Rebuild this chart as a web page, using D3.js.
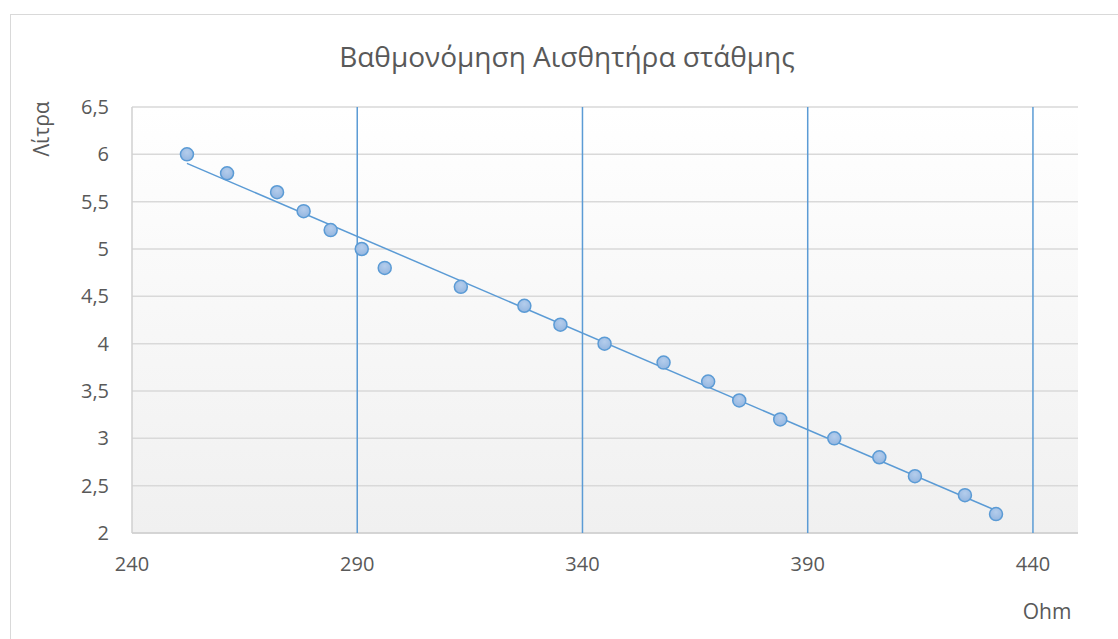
<!DOCTYPE html>
<html>
<head>
<meta charset="utf-8">
<script src="https://cdn.jsdelivr.net/npm/d3@7"></script>
<style>
    body { margin: 0; background: #fff; }
    svg text { font-family: "Open Sans", "Noto Sans", sans-serif; fill: #595959; }
</style>
</head>
<body>
<div id="chart"></div>
<script>
const width = 1118
const height = 639
const margins = ({
    top: 107,
    right: 40,
    bottom: 106,
    left: 132
})

// measured data: resistance (Ohm) vs volume (litres)
const ohm = [252.2, 261.1, 272.2, 278.1, 284.1, 291.0, 296.1, 313.0, 327.1, 335.1,
    344.9, 358.0, 367.9, 374.8, 383.9, 395.9, 405.9, 413.8, 424.9, 431.8]
const litres = [6.0, 5.8, 5.6, 5.4, 5.2, 5.0, 4.8, 4.6, 4.4, 4.2,
    4.0, 3.8, 3.6, 3.4, 3.2, 3.0, 2.8, 2.6, 2.4, 2.2]
const xTicks = [240, 290, 340, 390, 440]
const yTicks = [2, 2.5, 3, 3.5, 4, 4.5, 5, 5.5, 6, 6.5]

const title = "Βαθμονόμηση Αισθητήρα στάθμης"
const xLabel = "Ohm"
const yLabel = "Λίτρα"

const points = ohm.map((x, i) => ({x: x, y: litres[i]}))

const svg = d3.select("#chart")
    .append("svg")
    .attr("width", width)
    .attr("height", height)

const x = d3.scaleLinear().domain([240, 450]).range([margins.left, width - margins.right])
const y = d3.scaleLinear().domain([2, 6.5]).range([height - margins.bottom, margins.top])

// chart border
svg.append("rect")
    .attr("x", 10.5)
    .attr("y", 14.5)
    .attr("width", width)
    .attr("height", height)
    .attr("fill", "#fff")
    .attr("stroke", "#d9d9d9")
    .attr("stroke-width", 1)

const defs = svg.append("defs")
const bg = defs.append("linearGradient")
    .attr("id", "plot-bg")
    .attr("x1", 0).attr("y1", 0).attr("x2", 0).attr("y2", 1)
bg.append("stop").attr("offset", "0%").attr("stop-color", "#ffffff")
bg.append("stop").attr("offset", "100%").attr("stop-color", "#f0f0f0")

const dot = defs.append("radialGradient")
    .attr("id", "dot-fill")
    .attr("cx", "50%").attr("cy", "35%").attr("r", "65%")
dot.append("stop").attr("offset", "0%").attr("stop-color", "#b4cdec")
dot.append("stop").attr("offset", "100%").attr("stop-color", "#94b6e0")

svg.append("rect")
    .attr("x", x(240))
    .attr("y", y(6.5))
    .attr("width", x(450) - x(240))
    .attr("height", y(2) - y(6.5))
    .attr("fill", "url(#plot-bg)")

// horizontal gridlines
svg.append("g")
    .selectAll("line")
    .data(yTicks)
    .join("line")
    .attr("x1", x(240))
    .attr("x2", x(450))
    .attr("y1", d => y(d))
    .attr("y2", d => y(d))
    .attr("stroke", "#d9d9d9")
    .attr("stroke-width", 1.5)

// axes lines
svg.append("line")
    .attr("x1", x(240)).attr("x2", x(240))
    .attr("y1", y(6.5)).attr("y2", y(2))
    .attr("stroke", "#d0d0d0")
    .attr("stroke-width", 1.5)
svg.append("line")
    .attr("x1", x(240)).attr("x2", x(450))
    .attr("y1", y(2)).attr("y2", y(2))
    .attr("stroke", "#d0d0d0")
    .attr("stroke-width", 1.5)

// vertical gridlines (blue)
svg.append("g")
    .selectAll("line")
    .data(xTicks.filter(d => d > 240))
    .join("line")
    .attr("x1", d => x(d))
    .attr("x2", d => x(d))
    .attr("y1", y(6.5))
    .attr("y2", y(2))
    .attr("stroke", "#5b9bd5")
    .attr("stroke-width", 1.5)

// tick labels
svg.append("g")
    .selectAll("text")
    .data(yTicks)
    .join("text")
    .text(d => String(d).replace(".", ","))
    .attr("x", x(240) - 23)
    .attr("y", d => y(d))
    .attr("dy", "0.35em")
    .style("text-anchor", "end")
    .style("font-size", "20px")

svg.append("g")
    .selectAll("text")
    .data(xTicks)
    .join("text")
    .text(d => d)
    .attr("x", d => x(d))
    .attr("y", y(2) + 31)
    .attr("dy", "0.35em")
    .style("text-anchor", "middle")
    .style("font-size", "20px")

// linear trendline (least squares fit of the points)
const mx = d3.mean(ohm)
const my = d3.mean(litres)
const slope = d3.sum(points, d => (d.x - mx) * (d.y - my)) / d3.sum(points, d => (d.x - mx) ** 2)
const intercept = my - slope * mx
const xExt = d3.extent(ohm)
svg.append("line")
    .attr("x1", x(xExt[0]))
    .attr("y1", y(slope * xExt[0] + intercept))
    .attr("x2", x(xExt[1]))
    .attr("y2", y(slope * xExt[1] + intercept))
    .attr("stroke", "#5b9bd5")
    .attr("stroke-width", 1.5)

// data points
svg.append("g")
    .selectAll("circle")
    .data(points)
    .join("circle")
    .attr("cx", d => x(d.x))
    .attr("cy", d => y(d.y))
    .attr("r", 6.5)
    .attr("fill", "url(#dot-fill)")
    .attr("stroke", "#5b9bd5")
    .attr("stroke-width", 1.5)

// titles
svg.append("text")
    .text(title)
    .attr("x", 567)
    .attr("y", 57)
    .attr("dy", "0.35em")
    .style("text-anchor", "middle")
    .style("font-size", "28px")
svg.append("text")
    .text(yLabel)
    .attr("transform", "rotate(-90)")
    .attr("x", -129)
    .attr("y", 42)
    .attr("dy", "0.35em")
    .style("text-anchor", "middle")
    .style("font-size", "21px")
svg.append("text")
    .text(xLabel)
    .attr("x", 1047)
    .attr("y", 612)
    .attr("dy", "0.35em")
    .style("text-anchor", "middle")
    .style("font-size", "21px")
</script>
</body>
</html>
